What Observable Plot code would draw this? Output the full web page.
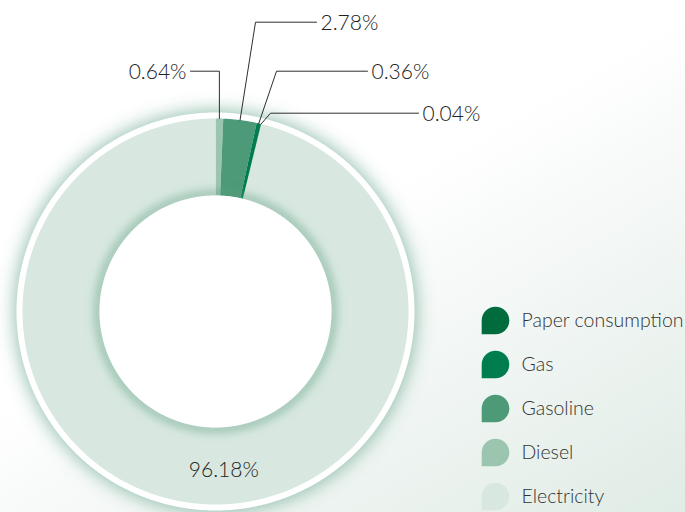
<!DOCTYPE html>
<html><head><meta charset="utf-8">
<script src="https://cdn.jsdelivr.net/npm/d3@7"></script>
<script src="https://cdn.jsdelivr.net/npm/@observablehq/plot@0.6"></script>
<style>
html,body{margin:0;padding:0;}
body{width:685px;height:512px;overflow:hidden;background:linear-gradient(150deg,#ffffff 45%,#f3f7f5 66%,#e0ece6 100%);font-family:Lato,"Open Sans",sans-serif;}
</style></head><body><div id="chart"></div>
<script>
// ---- data (clockwise from 12 o'clock) ----
const categories = ["Diesel", "Gasoline", "Gas", "Paper consumption", "Electricity"];
const shares = [0.64, 2.78, 0.36, 0.04, 96.18];
const shareLabels = ["0.64%", "2.78%", "0.36%", "0.04%", "96.18%"];
const legendOrder = ["Paper consumption", "Gas", "Gasoline", "Diesel", "Electricity"];
const colors = ["#9cc5b0", "#4c9a77", "#007d4f", "#006b3c", "#d8e8e0"];

// ---- layout ----
const W = 685, H = 512, cx = 215, cy = 311, R = 193, r0 = 116, ringR = 199;
const deg = Math.PI / 180;
const pt = (a, rad) => [cx + rad * Math.sin(a), cy - rad * Math.cos(a)];
function arcPts(a0, a1, rad) {
  const n = Math.max(2, Math.ceil(Math.abs(a1 - a0) / (0.25 * deg)));
  return d3.range(n + 1).map(i => pt(a0 + (a1 - a0) * i / n, rad));
}
const disk = (rad, key) => arcPts(0, 2 * Math.PI, rad).map(([x, y]) => ({key, x, y}));

const arcs = d3.pie().sort(null).value(d => d)(shares);
const slicePts = arcs.flatMap((a, i) => {
  const ring = [...arcPts(a.startAngle, a.endAngle, R), ...arcPts(a.endAngle, a.startAngle, r0)];
  ring.push(ring[0]);
  return ring.map(([x, y]) => ({key: categories[i], x, y}));
});

// leader-line layout for the four small slices
const leader = [
  {elbowX: null, lineY: 70.7, endX: 190, labelX: 186, anchor: "end"},
  {elbowX: 255, lineY: 21.7, endX: 316, labelX: 320, anchor: "start"},
  {elbowX: 276, lineY: 70.7, endX: 367, labelX: 371, anchor: "start"},
  {elbowX: 270, lineY: 112.7, endX: 418, labelX: 422, anchor: "start"}
];
const leaderPts = leader.flatMap((L, i) => {
  const mid = (arcs[i].startAngle + arcs[i].endAngle) / 2;
  const [ax, ay] = pt(mid, R);
  const ex = L.elbowX ?? ax;
  return [[ax, ay], [ex, L.lineY], [L.endX, L.lineY]].map(([x, y]) => ({key: i, x, y}));
});
const labelRows = leader.map((L, i) => ({text: shareLabels[i], x: L.labelX, y: L.lineY + 0.8, anchor: L.anchor}));
const elecLabel = (() => { const [x, y] = pt(177 * deg, 159); return [{text: shareLabels[4], x, y}]; })();

// legend marker: circle with a squared bottom-left corner
const leaf = {draw(ctx, size) {
  const r = Math.sqrt(size / Math.PI);
  ctx.moveTo(-r, r); ctx.lineTo(-r, 0);
  ctx.arc(0, 0, r, Math.PI, 2.5 * Math.PI);
  ctx.closePath();
}};
const legendRows = legendOrder.map((d, i) => ({key: d, y: 320 + 44 * i}));

const font = "Lato, 'Open Sans', sans-serif";
const txt = {fill: "#222222", fontFamily: font, fontWeight: 300};
const svg = Plot.plot({
  width: W, height: H, margin: 0,
  x: {domain: [0, W], range: [0, W], axis: null},
  y: {domain: [0, H], range: [0, H], axis: null},
  color: {domain: categories, range: colors},
  style: {background: "transparent", fontFamily: font, overflow: "visible"},
  marks: [
    Plot.line(disk(ringR + 2, "g"), {x: "x", y: "y", fill: "#4f977a", fillOpacity: 0.6, stroke: "none"}),
    Plot.line(disk(ringR, "w"), {x: "x", y: "y", fill: "#ffffff", stroke: "none"}),
    Plot.line(slicePts, {x: "x", y: "y", z: "key", fill: "key", stroke: "none"}),
    Plot.line(disk(r0 + 1, "s"), {x: "x", y: "y", fill: "none", stroke: "#5c9d80", strokeWidth: 8, strokeOpacity: 0.55}),
    Plot.line(disk(r0, "h"), {x: "x", y: "y", fill: "#ffffff", stroke: "none"}),
    Plot.line(leaderPts, {x: "x", y: "y", z: "key", stroke: "#2e2e2e", strokeWidth: 1}),
    Plot.text(labelRows.filter(d => d.anchor === "start"), {x: "x", y: "y", text: "text", textAnchor: "start", fontSize: 21, ...txt}),
    Plot.text(labelRows.filter(d => d.anchor === "end"), {x: "x", y: "y", text: "text", textAnchor: "end", fontSize: 21, ...txt}),
    Plot.text(elecLabel, {x: "x", y: "y", text: "text", fontSize: 21, ...txt}),
    Plot.dot(legendRows, {x: () => 495, y: "y", r: 13.8, symbol: leaf, fill: "key", stroke: "none"}),
    Plot.text(legendRows, {x: () => 521, y: "y", text: "key", textAnchor: "start", fontSize: 19.5, ...txt, fill: "#333333"})
  ]
});

// soft glow filters applied to the glow disk and the inner-edge shadow ring
const s = d3.select(svg);
const defs = s.insert("defs", ":first-child");
defs.append("filter").attr("id", "glowF").attr("x", "-30%").attr("y", "-30%").attr("width", "160%").attr("height", "160%")
  .append("feGaussianBlur").attr("stdDeviation", 9);
defs.append("filter").attr("id", "innerF").attr("x", "-30%").attr("y", "-30%").attr("width", "160%").attr("height", "160%")
  .append("feGaussianBlur").attr("stdDeviation", 5);
const lineGroups = s.selectAll('g[aria-label="line"]').nodes();
d3.select(lineGroups[0]).attr("filter", "url(#glowF)");
d3.select(lineGroups[3]).attr("filter", "url(#innerF)");
document.getElementById("chart").appendChild(svg);
</script>
</body></html>
